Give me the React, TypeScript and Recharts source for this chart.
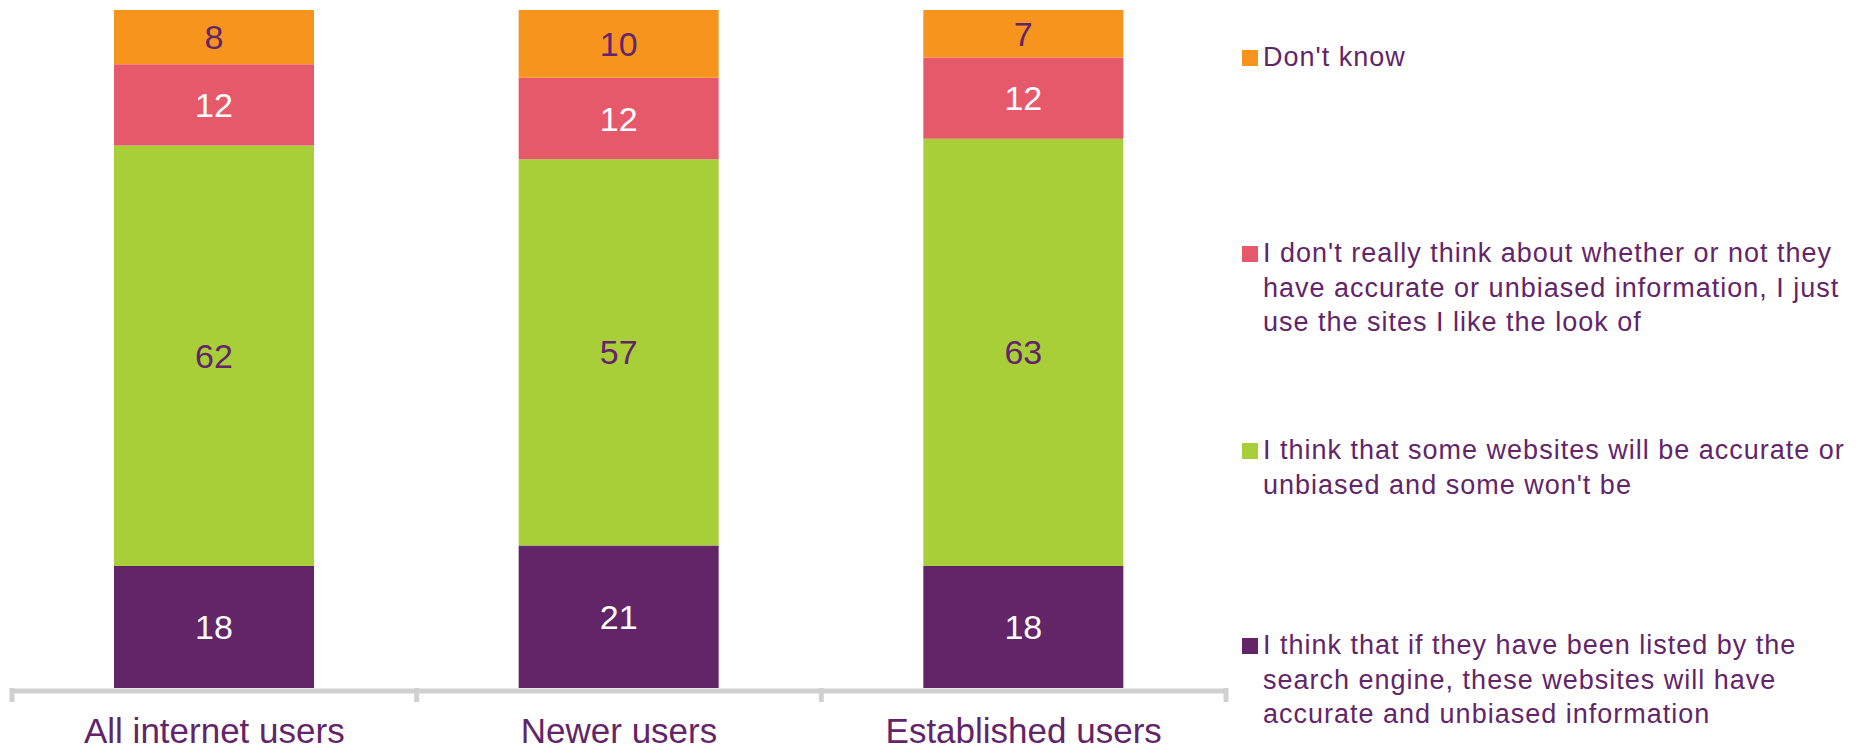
import React from "react";
import { BarChart, Bar, XAxis, YAxis, LabelList } from "recharts";

const categories = ["All internet users", "Newer users", "Established users"];
const listedValues = [18, 21, 18];
const someValues = [62, 57, 63];
const dontThinkValues = [12, 12, 12];
const dontKnowValues = [8, 10, 7];

const legendDontKnow = ["Don't know"];
const legendDontThink = [
  "I don't really think about whether or not they",
  "have accurate or unbiased information, I just",
  "use the sites I like the look of",
];
const legendSome = [
  "I think that some websites will be accurate or",
  "unbiased and some won't be",
];
const legendListed = [
  "I think that if they have been listed by the",
  "search engine, these websites will have",
  "accurate and unbiased information",
];

const PURPLE = "#622567";
const GREEN = "#A9CF38";
const RED = "#E6596B";
const ORANGE = "#F7941D";
const TEXT = "#62256A";
const FONT = "'Liberation Sans', Arial, sans-serif";

const data = categories.map((name, i) => ({
  name,
  listed: listedValues[i],
  some: someValues[i],
  dontThink: dontThinkValues[i],
  dontKnow: dontKnowValues[i],
}));

const legendItems = [
  { color: ORANGE, lines: legendDontKnow, top: 40 },
  { color: RED, lines: legendDontThink, top: 236 },
  { color: GREEN, lines: legendSome, top: 433 },
  { color: PURPLE, lines: legendListed, top: 628 },
];

const W = 1857;
const H = 747;
const ML = 12;
const MR = 631;
const HALF_BAND = (W - ML - MR) / categories.length / 2;

const CatTick = (props: any) => {
  const { x, y, payload, index } = props;
  return (
    <g>
      <line x1={x - HALF_BAND} x2={x - HALF_BAND} y1={y} y2={y + 14} stroke="#D0D0D0" strokeWidth={5} />
      {index === categories.length - 1 && (
        <line x1={x + HALF_BAND} x2={x + HALF_BAND} y1={y} y2={y + 14} stroke="#D0D0D0" strokeWidth={5} />
      )}
      <text x={x} y={y + 55} textAnchor="middle" fill={TEXT} fontSize={35} fontFamily={FONT}>
        {payload.value}
      </text>
    </g>
  );
};

export default function App() {
  return (
    <div style={{ position: "absolute", left: 0, top: 0, width: W, height: H, background: "#fff", fontFamily: FONT }}>
      <BarChart width={W} height={H} data={data} margin={{ top: 10, right: MR, bottom: 0, left: ML }}>
        <XAxis
          dataKey="name"
          height={59}
          tickLine={false}
          tickSize={0}
          tickMargin={0}
          interval={0}
          axisLine={{ stroke: "#D0D0D0", strokeWidth: 5, transform: "translate(0,3)" }}
          tick={<CatTick />}
        />
        <YAxis hide domain={[0, 100]} />
        <Bar dataKey="listed" stackId="a" fill={PURPLE} barSize={200} isAnimationActive={false}>
          <LabelList dataKey="listed" position="center" fill="#FFFFFF" fontSize={34} fontFamily={FONT} />
        </Bar>
        <Bar dataKey="some" stackId="a" fill={GREEN} barSize={200} isAnimationActive={false}>
          <LabelList dataKey="some" position="center" fill={TEXT} fontSize={34} fontFamily={FONT} />
        </Bar>
        <Bar dataKey="dontThink" stackId="a" fill={RED} barSize={200} isAnimationActive={false}>
          <LabelList dataKey="dontThink" position="center" fill="#FFFFFF" fontSize={34} fontFamily={FONT} />
        </Bar>
        <Bar dataKey="dontKnow" stackId="a" fill={ORANGE} barSize={200} isAnimationActive={false}>
          <LabelList dataKey="dontKnow" position="center" fill={TEXT} fontSize={34} fontFamily={FONT} />
        </Bar>
      </BarChart>
      {legendItems.map((item, i) => (
        <div key={i} style={{ position: "absolute", left: 1242, top: item.top }}>
          <div style={{ position: "absolute", left: 0, top: 10, width: 16, height: 16, background: item.color }} />
          <div
            style={{
              position: "absolute",
              left: 21,
              top: 0,
              whiteSpace: "nowrap",
              fontSize: 27,
              letterSpacing: 1,
              lineHeight: "34.5px",
              color: TEXT,
              fontFamily: FONT,
            }}
          >
            {item.lines.map((l, j) => (
              <div key={j}>{l}</div>
            ))}
          </div>
        </div>
      ))}
    </div>
  );
}
